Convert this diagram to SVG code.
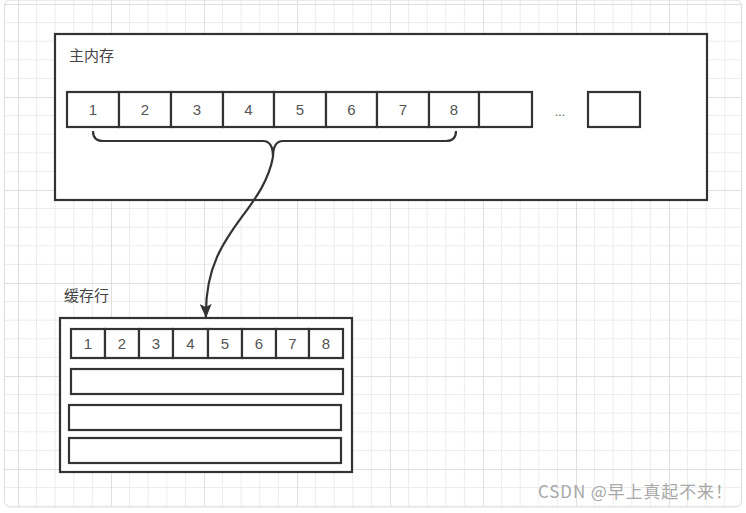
<svg xmlns="http://www.w3.org/2000/svg" width="746" height="513" viewBox="0 0 746 513">
<defs>
<style>
.box{fill:#fff;stroke:#333;stroke-width:2.2}
.cell{fill:#fff;stroke:#333;stroke-width:2.2}
.num{font-family:"Liberation Sans","Noto Sans",sans-serif;font-size:15px;fill:#555;text-anchor:middle}
.lbl{font-family:"Noto Sans CJK SC","Liberation Sans",sans-serif;font-size:15px;fill:#444}
.conn{fill:none;stroke:#333;stroke-width:2.2}
</style>
<pattern id="grid" x="18" y="4" width="93" height="93" patternUnits="userSpaceOnUse">
<path d="M18.6,0V93M37.2,0V93M55.8,0V93M74.4,0V93M0,18.6H93M0,37.2H93M0,55.8H93M0,74.4H93" stroke="#ececec" stroke-width="1" fill="none"/>
<path d="M0.5,0V93M0,0.5H93" stroke="#dfdfdf" stroke-width="1" fill="none"/>
</pattern>
<marker id="arrow" viewBox="0 0 14 12" refX="13" refY="6" markerWidth="14" markerHeight="12" markerUnits="userSpaceOnUse" orient="auto">
<path d="M0,0 L14,6 L0,12 L3,6 Z" fill="#333"/>
</marker>
</defs>
<rect x="0" y="0" width="746" height="513" fill="#fff"/>
<rect x="4.5" y="0" width="737" height="507" rx="6" fill="url(#grid)" stroke="#dcdcdc" stroke-width="1"/>

<g id="main-memory">
<rect class="box" x="55" y="34" width="652" height="166"/>
<text class="lbl" x="69" y="61">主内存</text>
<g id="mem-cells">
<rect class="cell" x="67" y="92" width="52" height="35"/>
<rect class="cell" x="119" y="92" width="52" height="35"/>
<rect class="cell" x="171" y="92" width="52" height="35"/>
<rect class="cell" x="223" y="92" width="51" height="35"/>
<rect class="cell" x="274" y="92" width="52" height="35"/>
<rect class="cell" x="326" y="92" width="51" height="35"/>
<rect class="cell" x="377" y="92" width="52" height="35"/>
<rect class="cell" x="429" y="92" width="50" height="35"/>
<rect class="cell" x="479" y="92" width="53" height="35"/>
<rect class="cell" x="588" y="92" width="52" height="35"/>
<text class="num" x="93" y="115">1</text>
<text class="num" x="145" y="115">2</text>
<text class="num" x="197" y="115">3</text>
<text class="num" x="248.5" y="115">4</text>
<text class="num" x="300" y="115">5</text>
<text class="num" x="351.5" y="115">6</text>
<text class="num" x="403" y="115">7</text>
<text class="num" x="454" y="115">8</text>
<text class="num" x="560" y="116" style="font-size:12px">...</text>
</g>
</g>

<g id="cache-line">
<text class="lbl" x="64" y="301">缓存行</text>
<rect class="box" x="60" y="318" width="292" height="154"/>
<rect class="cell" x="71" y="329" width="34" height="29"/>
<rect class="cell" x="105" y="329" width="34" height="29"/>
<rect class="cell" x="139" y="329" width="34" height="29"/>
<rect class="cell" x="173" y="329" width="35" height="29"/>
<rect class="cell" x="208" y="329" width="34" height="29"/>
<rect class="cell" x="242" y="329" width="34" height="29"/>
<rect class="cell" x="276" y="329" width="33" height="29"/>
<rect class="cell" x="309" y="329" width="34" height="29"/>
<text class="num" x="88" y="349">1</text>
<text class="num" x="122" y="349">2</text>
<text class="num" x="156" y="349">3</text>
<text class="num" x="190.5" y="349">4</text>
<text class="num" x="225" y="349">5</text>
<text class="num" x="259" y="349">6</text>
<text class="num" x="292.5" y="349">7</text>
<text class="num" x="326" y="349">8</text>
<rect class="cell" x="71" y="369" width="272" height="25"/>
<rect class="cell" x="69" y="405" width="272" height="25"/>
<rect class="cell" x="69" y="438" width="272" height="25"/>
</g>

<g id="connectors">
<path class="conn" d="M93,131 Q93,141 103,141 L263,141 Q273,141 273,157 Q273,141 283,141 L446,141 Q456,141 456,131"/>
<path class="conn" d="M273,157 C262,215 204,232 206,317" marker-end="url(#arrow)"/>
</g>

<text x="538" y="498" textLength="194" lengthAdjust="spacing" style="font-family:'Noto Sans CJK SC','Liberation Sans',sans-serif;font-size:17px;fill:#a8a8a8">CSDN @早上真起不来！</text>
</svg>
